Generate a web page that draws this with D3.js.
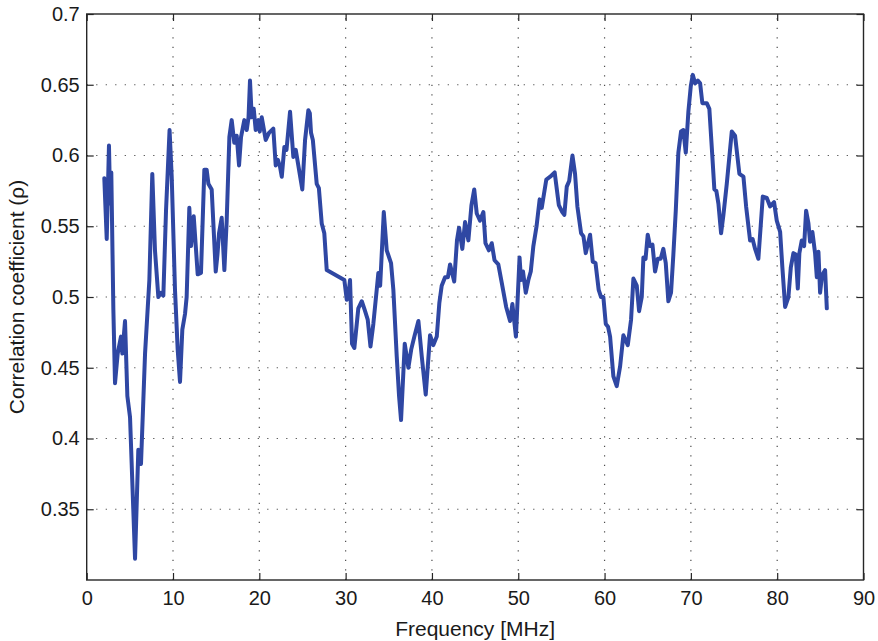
<!DOCTYPE html>
<html>
<head>
<meta charset="utf-8">
<script src="https://cdn.jsdelivr.net/npm/d3@7/dist/d3.min.js"></script>
<style>
  html, body { margin: 0; padding: 0; background: #fff; }
  svg { display: block; }
  text { font-family: "Liberation Sans", Arial, Helvetica, sans-serif; fill: #1a1a1a; }
</style>
</head>
<body>
<svg id="chart" width="878" height="641"></svg>
<script>
// Frequency samples (MHz) and correlation coefficient values
const freq = [
  2.04, 2.32, 2.58, 2.72, 2.85, 3.09, 3.28, 3.59, 3.97, 4.13, 4.44, 4.71, 5.02, 5.6, 5.98, 6.29, 6.76, 7.26, 7.6, 7.91,
  8.3, 8.6, 8.88, 9.19, 9.6, 9.85, 10.23, 10.54, 10.81, 11.08, 11.39, 11.58, 11.89, 12.09, 12.4, 12.86, 13.24, 13.63, 13.9, 14.1,
  14.48, 14.95, 15.15, 15.33, 15.64, 15.95, 16.22, 16.53, 16.8, 17.1, 17.38, 17.65, 17.88, 18.26, 18.54, 18.75, 18.92, 19.12, 19.35, 19.58,
  19.89, 20.05, 20.28, 20.74, 21.12, 21.62, 21.9, 22.15, 22.4, 22.6, 22.9, 23.15, 23.56, 23.94, 24.22, 24.6, 24.98, 25.3, 25.68, 25.85,
  25.99, 26.2, 26.65, 26.9, 27.23, 27.53, 27.81, 29.85, 30.13, 30.3, 30.51, 30.74, 31.01, 31.47, 31.87, 32.2, 32.56, 32.88, 33.21, 33.6,
  33.79, 34.0, 34.42, 34.76, 35.26, 35.53, 35.92, 36.19, 36.42, 36.85, 37.27, 37.6, 37.96, 38.43, 38.82, 39.28, 39.78, 40.16, 40.56, 40.86,
  41.13, 41.52, 41.85, 42.1, 42.58, 42.9, 43.14, 43.52, 43.84, 44.22, 44.58, 44.9, 45.19, 45.57, 45.96, 46.2, 46.6, 46.93, 47.25, 47.69,
  48.09, 48.6, 49.05, 49.32, 49.73, 50.15, 50.32, 50.55, 50.87, 51.17, 51.45, 51.75, 52.12, 52.48, 52.72, 53.25, 53.7, 54.22, 54.7, 55.1,
  55.34, 55.62, 55.9, 56.28, 56.58, 56.85, 57.28, 57.55, 57.82, 58.32, 58.63, 58.95, 59.32, 59.59, 59.86, 60.14, 60.4, 60.64, 61.02, 61.41,
  61.8, 62.18, 62.69, 63.07, 63.34, 63.73, 64.0, 64.31, 64.5, 64.75, 65.0, 65.27, 65.55, 65.85, 66.16, 66.5, 66.81, 67.09, 67.39, 67.7,
  67.97, 68.25, 68.55, 68.86, 69.13, 69.41, 69.71, 69.99, 70.22, 70.49, 70.8, 71.07, 71.33, 71.84, 72.14, 72.49, 72.72, 72.95, 73.19, 73.5,
  73.77, 74.16, 74.74, 75.12, 75.62, 76.09, 76.4, 76.86, 77.15, 77.44, 77.82, 78.33, 78.8, 79.18, 79.64, 79.95, 80.34, 80.6, 80.92, 81.3,
  81.58, 81.88, 82.15, 82.39, 82.57, 82.85, 83.12, 83.35, 83.62, 83.81, 84.08, 84.39, 84.59, 84.78, 84.97, 85.17, 85.35, 85.55, 85.75
];
const rho = [
  0.584, 0.541, 0.607, 0.566, 0.588, 0.491, 0.439, 0.460, 0.472, 0.460, 0.483, 0.430, 0.415, 0.315, 0.392, 0.382, 0.460, 0.512, 0.587, 0.533,
  0.500, 0.503, 0.501, 0.561, 0.618, 0.585, 0.505, 0.463, 0.440, 0.477, 0.488, 0.500, 0.563, 0.536, 0.557, 0.516, 0.517, 0.590, 0.590, 0.580,
  0.576, 0.518, 0.530, 0.545, 0.556, 0.519, 0.554, 0.613, 0.625, 0.609, 0.614, 0.593, 0.613, 0.625, 0.618, 0.627, 0.653, 0.627, 0.633, 0.618,
  0.625, 0.617, 0.627, 0.611, 0.616, 0.619, 0.593, 0.597, 0.592, 0.585, 0.606, 0.604, 0.631, 0.599, 0.604, 0.590, 0.576, 0.611, 0.632, 0.630,
  0.616, 0.611, 0.580, 0.577, 0.552, 0.545, 0.519, 0.512, 0.498, 0.500, 0.512, 0.467, 0.464, 0.492, 0.497, 0.491, 0.484, 0.465, 0.481, 0.505,
  0.517, 0.508, 0.560, 0.533, 0.524, 0.505, 0.458, 0.430, 0.413, 0.467, 0.450, 0.463, 0.472, 0.483, 0.458, 0.431, 0.473, 0.466, 0.472, 0.496,
  0.508, 0.514, 0.514, 0.523, 0.511, 0.540, 0.549, 0.534, 0.553, 0.540, 0.565, 0.576, 0.559, 0.554, 0.560, 0.538, 0.533, 0.538, 0.526, 0.523,
  0.510, 0.493, 0.483, 0.495, 0.472, 0.528, 0.512, 0.518, 0.503, 0.512, 0.518, 0.536, 0.550, 0.569, 0.563, 0.583, 0.585, 0.588, 0.565, 0.560,
  0.558, 0.578, 0.582, 0.600, 0.587, 0.564, 0.545, 0.543, 0.531, 0.544, 0.525, 0.524, 0.505, 0.500, 0.500, 0.481, 0.479, 0.472, 0.444, 0.437,
  0.451, 0.473, 0.466, 0.484, 0.513, 0.508, 0.490, 0.500, 0.528, 0.527, 0.544, 0.536, 0.537, 0.518, 0.527, 0.527, 0.534, 0.524, 0.497, 0.503,
  0.530, 0.561, 0.602, 0.617, 0.618, 0.602, 0.631, 0.649, 0.657, 0.651, 0.653, 0.651, 0.637, 0.637, 0.633, 0.599, 0.576, 0.575, 0.566, 0.545,
  0.558, 0.580, 0.617, 0.614, 0.587, 0.585, 0.564, 0.540, 0.541, 0.534, 0.527, 0.571, 0.570, 0.564, 0.567, 0.554, 0.546, 0.521, 0.493, 0.500,
  0.521, 0.531, 0.530, 0.506, 0.531, 0.540, 0.536, 0.561, 0.552, 0.539, 0.546, 0.531, 0.514, 0.532, 0.503, 0.514, 0.517, 0.519, 0.492
];

const xTicks = [0, 10, 20, 30, 40, 50, 60, 70, 80, 90];
const yTicks = [0.35, 0.4, 0.45, 0.5, 0.55, 0.6, 0.65, 0.7];
const xLabel = "Frequency [MHz]";
const yLabel = "Correlation coefficient (\u03c1)";

const svg = d3.select("#chart");
const margin = { left: 86.7, top: 14, right: 878 - 863.5, bottom: 641 - 580 };
const W = 878 - margin.left - margin.right;
const H = 641 - margin.top - margin.bottom;

const x = d3.scaleLinear().domain([0, 90]).range([0, W]);
const y = d3.scaleLinear().domain([0.3, 0.7]).range([H, 0]);

const g = svg.append("g").attr("transform", `translate(${margin.left},${margin.top})`);

// dotted grid
const grid = g.append("g").attr("stroke", "#4d4d4d").attr("stroke-width", 1.2)
  .attr("stroke-dasharray", "1.2,8.3");
grid.selectAll("line.gx").data(xTicks.filter(t => t > 0 && t < 90)).join("line")
  .attr("x1", d => x(d)).attr("x2", d => x(d)).attr("y1", H).attr("y2", 0);
grid.selectAll("line.gy").data(yTicks.filter(t => t < 0.7)).join("line")
  .attr("y1", d => y(d)).attr("y2", d => y(d)).attr("x1", 0).attr("x2", W);

// data line
const line = d3.line().x((d, i) => x(freq[i])).y(d => y(d));
g.append("path").datum(rho)
  .attr("fill", "none").attr("stroke", "#2f47a3").attr("stroke-width", 4)
  .attr("stroke-linejoin", "round").attr("stroke-linecap", "round")
  .attr("d", line);

// axes with inward ticks on all four sides
const tickLen = 7;
const axisStyle = sel => {
  sel.select(".domain").remove();
  sel.selectAll(".tick line").attr("stroke", "#262626").attr("stroke-width", 1.2);
  sel.selectAll(".tick text").attr("font-size", 20).attr("fill", "#1a1a1a")
    .attr("font-family", '"Liberation Sans", Arial, Helvetica, sans-serif');
};

g.append("g").attr("transform", `translate(0,${H})`)
  .call(d3.axisBottom(x).tickValues(xTicks).tickFormat(d3.format("d")).tickSizeInner(-tickLen).tickSizeOuter(0).tickPadding(11))
  .call(axisStyle);
g.append("g")
  .call(d3.axisTop(x).tickValues(xTicks).tickFormat("").tickSizeInner(-tickLen).tickSizeOuter(0))
  .call(axisStyle);
g.append("g")
  .call(d3.axisLeft(y).tickValues(yTicks).tickFormat(d => String(+d.toFixed(2))).tickSizeInner(-tickLen).tickSizeOuter(0).tickPadding(7))
  .call(axisStyle);
g.append("g").attr("transform", `translate(${W},0)`)
  .call(d3.axisRight(y).tickValues(yTicks).tickFormat("").tickSizeInner(-tickLen).tickSizeOuter(0))
  .call(axisStyle);

// frame
g.append("rect").attr("x", 0).attr("y", 0).attr("width", W).attr("height", H)
  .attr("fill", "none").attr("stroke", "#262626").attr("stroke-width", 1.4);

// axis titles
svg.append("text").attr("x", margin.left + W / 2).attr("y", 636)
  .attr("text-anchor", "middle").attr("font-size", 21).text(xLabel);
svg.append("text")
  .attr("transform", `translate(24,${margin.top + H / 2}) rotate(-90)`)
  .attr("text-anchor", "middle").attr("font-size", 21).text(yLabel);
</script>
</body>
</html>
